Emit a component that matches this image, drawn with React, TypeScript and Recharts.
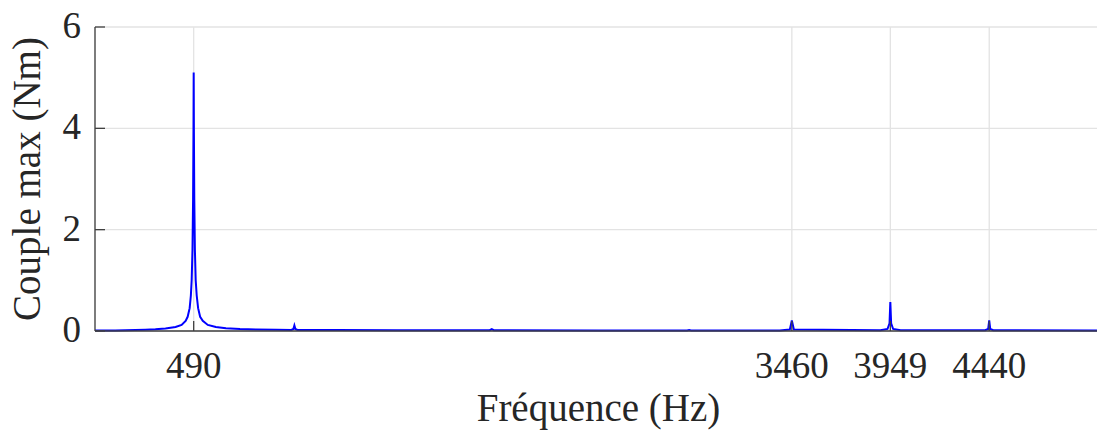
import React from 'react';
import { LineChart, Line, XAxis, YAxis, CartesianGrid, Label } from 'recharts';

// spectre : fréquence (Hz) / couple max (Nm)
const freqHz = [
  0, 100, 200, 250, 300, 350, 400, 430, 450, 460, 470, 476, 480, 484, 487, 489, 490,
  491, 493, 496, 500, 505, 512, 522, 535, 560, 600, 650, 720, 800, 900, 975, 985,
  990, 995, 1005, 1200, 1500, 1960, 1970, 1980, 2500, 2940, 2950, 2960, 3400, 3450,
  3460, 3470, 3900, 3935, 3945, 3949, 3953, 3963, 4000, 4420, 4435, 4440, 4445, 4460, 5000,
];
const coupleNm = [
  0.01, 0.012, 0.018, 0.025, 0.035, 0.05, 0.08, 0.12, 0.2, 0.28, 0.45, 0.7, 1.0, 1.6, 2.6, 4.0, 5.1,
  4.0, 2.6, 1.6, 1.0, 0.7, 0.45, 0.28, 0.2, 0.12, 0.08, 0.055, 0.04, 0.03, 0.025, 0.022, 0.04,
  0.11, 0.04, 0.022, 0.018, 0.016, 0.015, 0.035, 0.015, 0.012, 0.012, 0.02, 0.012, 0.012, 0.03,
  0.21, 0.03, 0.015, 0.04, 0.15, 0.57, 0.15, 0.04, 0.015, 0.015, 0.04, 0.21, 0.04, 0.015, 0.01,
];
const xTicks = [490, 3460, 3949, 4440];
const yTicks = [0, 2, 4, 6];

const data = freqHz.map((f, i) => ({ f, v: coupleNm[i] }));

const FONT = '"Liberation Serif", "DejaVu Serif", serif';
const INK = '#262626';
const AXIS = '#404040';
const FS_TICK = 37;
const FS_TITLE = 39;

const XTick = ({ x, y, payload }: any) => (
  <g>
    <line x1={x} y1={y} x2={x} y2={y - 10} stroke={AXIS} strokeWidth={1.3} />
    <text x={x} y={y + 47} textAnchor="middle" fill={INK} fontFamily={FONT} fontSize={FS_TICK}>
      {payload.value}
    </text>
  </g>
);

const YTick = ({ x, y, payload }: any) => (
  <g>
    <line x1={x} y1={y} x2={x + 10} y2={y} stroke={AXIS} strokeWidth={1.3} />
    <text x={x - 14} y={y + 11} textAnchor="end" fill={INK} fontFamily={FONT} fontSize={FS_TICK}>
      {payload.value}
    </text>
  </g>
);

const XTitle = ({ viewBox }: any) => (
  <text
    x={viewBox.x + viewBox.width / 2}
    y={421}
    textAnchor="middle"
    fill={INK}
    fontFamily={FONT}
    fontSize={FS_TITLE}
  >
    Fréquence (Hz)
  </text>
);

const YTitle = ({ viewBox }: any) => {
  const cx = 40;
  const cy = viewBox.y + viewBox.height / 2;
  return (
    <text
      x={cx}
      y={cy}
      transform={`rotate(-90, ${cx}, ${cy})`}
      textAnchor="middle"
      fill={INK}
      fontFamily={FONT}
      fontSize={FS_TITLE}
    >
      Couple max (Nm)
    </text>
  );
};

export default function App() {
  return (
    <div
      style={{
        position: 'fixed',
        left: 0,
        top: 0,
        width: 1097,
        height: 434,
        overflow: 'hidden',
        background: '#ffffff',
      }}
    >
      <LineChart width={1112} height={434} data={data} margin={{ top: 27, right: 10, left: 35, bottom: 0 }}>
        <CartesianGrid stroke="#e3e3e3" strokeWidth={1.3} />
        <XAxis
          dataKey="f"
          type="number"
          domain={[0, 5000]}
          ticks={xTicks}
          interval={0}
          height={103}
          tickSize={0}
          tickMargin={0}
          axisLine={{ stroke: AXIS, strokeWidth: 1.3 }}
          tickLine={false}
          tick={<XTick />}
        >
          <Label content={<XTitle />} />
        </XAxis>
        <YAxis
          type="number"
          domain={[0, 6]}
          ticks={yTicks}
          interval={0}
          width={60}
          tickSize={0}
          tickMargin={0}
          axisLine={{ stroke: AXIS, strokeWidth: 1.3 }}
          tickLine={false}
          tick={<YTick />}
        >
          <Label content={<YTitle />} />
        </YAxis>
        <Line
          type="linear"
          dataKey="v"
          stroke="#0000ff"
          strokeWidth={2}
          dot={false}
          isAnimationActive={false}
        />
      </LineChart>
    </div>
  );
}
